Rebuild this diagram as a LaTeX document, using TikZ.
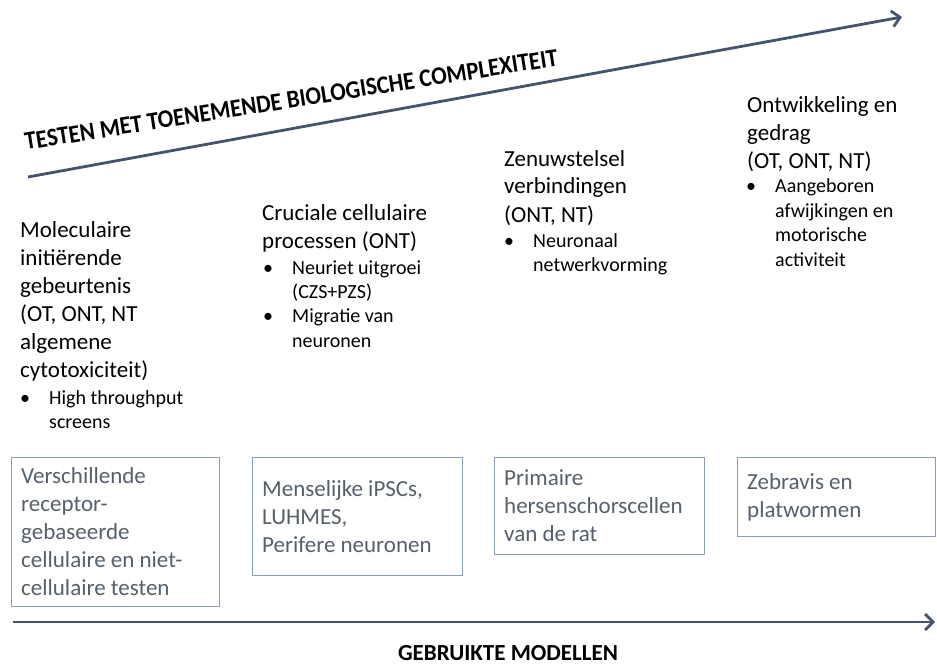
\documentclass[tikz,border=0pt]{standalone}
\usepackage{fontspec}
\setmainfont{Carlito}
\usetikzlibrary{arrows.meta}
\definecolor{arrowc}{HTML}{44546A}
\definecolor{boxc}{HTML}{8C9DB5}
\definecolor{boxtext}{HTML}{56606B}
\tikzset{
 headtext/.style={anchor=base west, inner sep=0pt, font=\fontsize{23}{28}\selectfont},
 bullettext/.style={anchor=base west, inner sep=0pt, font=\fontsize{20}{24.4}\selectfont},
 modelbox/.style={draw=boxc, line width=1.3pt, anchor=north west, inner sep=0pt},
 boxtxt/.style={anchor=base west, inner sep=0pt, text=boxtext, font=\fontsize{23}{28}\selectfont},
 axisarrow/.style={draw=arrowc, line width=2.8pt, -{Straight Barb[length=8pt,width=16pt]}},
 axislabel/.style={inner sep=0pt, font=\fontsize{23}{28}\selectfont\bfseries},
}
\newcommand{\hlines}[1]{\begin{tabular}[t]{@{}l@{}}#1\end{tabular}}
\newcommand{\blines}[1]{\begin{tabular}[t]{@{}p{29pt}@{}l@{}}#1\end{tabular}}
\begin{document}
\begin{tikzpicture}[x=1pt,y=-1pt]
\useasboundingbox (0,0) rectangle (937,666);
% top axis
\coordinate (t0) at (28,177);
\coordinate (t1) at (902,17);
\draw[axisarrow] (t0) -- (t1);
\node[axislabel, anchor=base west, rotate=9] (ttl) at (26,150) {\scalebox{1}[1.1]{TESTEN MET TOENEMENDE BIOLOGISCHE COMPLEXITEIT}};
% column 1
\node[headtext] (h1) at (20,237) {\hlines{Moleculaire\\initiërende\\gebeurtenis\\(OT, ONT, NT\\algemene\\cytotoxiciteit)}};
\node[bullettext] (u1) at (20,404) {\blines{\textbullet & High throughput\\ & screens}};
% column 2
\node[headtext] (h2) at (262,220) {\hlines{Cruciale cellulaire\\processen (ONT)}};
\node[bullettext] (u2) at (263,274) {\blines{\textbullet & Neuriet uitgroei\\ & (CZS+PZS)\\ \textbullet & Migratie van\\ & neuronen}};
% column 3
\node[headtext] (h3) at (504,166) {\hlines{Zenuwstelsel\\verbindingen\\(ONT, NT)}};
\node[bullettext] (u3) at (504,247) {\blines{\textbullet & Neuronaal\\ & netwerkvorming}};
% column 4
\node[headtext] (h4) at (747,113) {\hlines{Ontwikkeling en\\gedrag\\(OT, ONT, NT)}};
\node[bullettext] (u4) at (746,193) {\blines{\textbullet & Aangeboren\\ & afwijkingen en\\ & motorische\\ & activiteit}};
% model boxes
\node[modelbox, minimum width=208pt, minimum height=149pt] (b1) at (11,457) {};
\node[boxtxt] (m1) at (21,483) {\hlines{Verschillende\\receptor-\\gebaseerde\\cellulaire en niet-\\cellulaire testen}};
\node[modelbox, minimum width=210pt, minimum height=118pt] (b2) at (252,457) {};
\node[boxtxt] (m2) at (262,496) {\hlines{Menselijke iPSCs,\\LUHMES,\\Perifere neuronen}};
\node[modelbox, minimum width=210pt, minimum height=97pt] (b3) at (494,457) {};
\node[boxtxt] (m3) at (504,485) {\hlines{Primaire\\hersenschorscellen\\van de rat}};
\node[modelbox, minimum width=198pt, minimum height=79pt] (b4) at (737,457) {};
\node[boxtxt] (m4) at (747,489) {\hlines{Zebravis en\\platwormen}};
% bottom axis
\coordinate (a0) at (13,622);
\coordinate (a1) at (935,622);
\draw[axisarrow] (a0) -- (a1);
\node[axislabel, anchor=base] (btl) at (508,660) {GEBRUIKTE MODELLEN};
\end{tikzpicture}
\end{document}
